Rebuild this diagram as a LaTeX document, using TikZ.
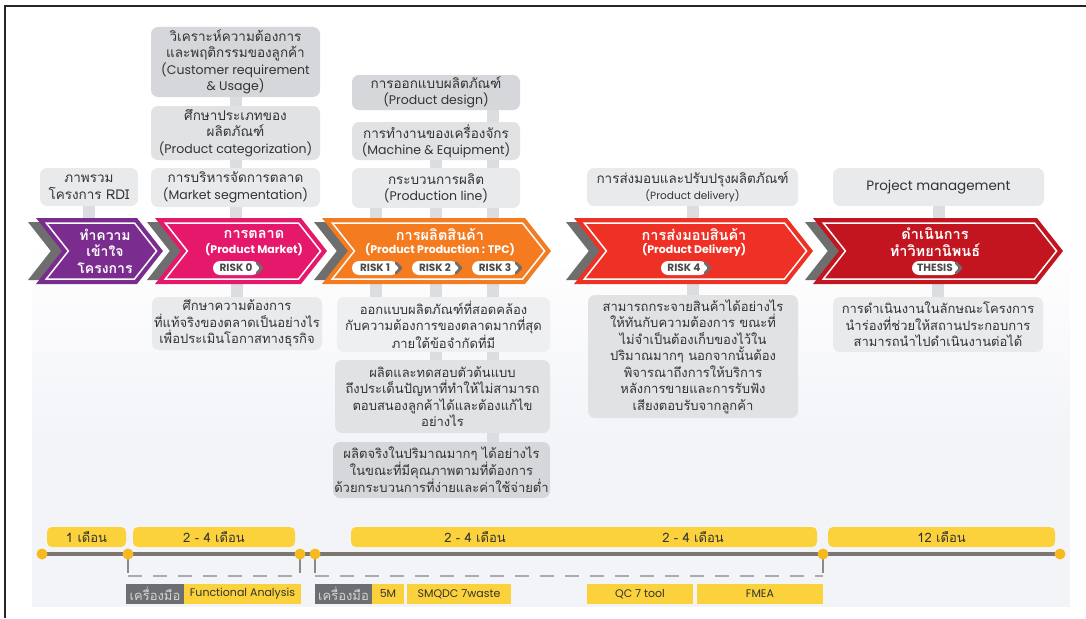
\documentclass[tikz,border=0pt]{standalone}
\usepackage{fontspec}
\setmainfont{Loma}[Script=Thai]
\newfontfamily\lat{Poppins}
\usetikzlibrary{calc,backgrounds}
\pgfdeclarelayer{canvas}
\pgfsetlayers{canvas,background,main}

\definecolor{ink}{HTML}{333333}
\definecolor{gA}{HTML}{D5D7DA}
\definecolor{gB}{HTML}{E0E2E4}
\definecolor{gC}{HTML}{E8EAEC}
\definecolor{gD}{HTML}{EDEFF1}
\definecolor{stripc}{HTML}{DBDDE0}
\definecolor{cpurple}{HTML}{7B2C8F}
\definecolor{cpink}{HTML}{E6186C}
\definecolor{corange}{HTML}{F47B20}
\definecolor{cred}{HTML}{EE3124}
\definecolor{cdark}{HTML}{C3151F}
\definecolor{cshadow}{HTML}{6E6E6E}
\definecolor{pillink}{HTML}{4A4A4A}
\definecolor{ybar}{HTML}{FBD23C}
\definecolor{ydot}{HTML}{F7B920}
\definecolor{tlinec}{HTML}{7C7672}
\definecolor{tickc}{HTML}{8A8A8A}
\definecolor{dashc}{HTML}{A9ABAE}
\definecolor{toolgrey}{HTML}{6D6E71}
\definecolor{toolink}{HTML}{D4D4D4}
\definecolor{bgc}{HTML}{F3F4F8}
\definecolor{framec}{HTML}{262626}

\tikzset{
  every node/.style={inner sep=0pt, outer sep=0pt},
  gbox/.style={rounded corners=7pt, align=center, text=ink,
    font=\fontsize{13.5}{16.5}\selectfont},
  lowbox/.style={gbox, font=\fontsize{13}{16.5}\selectfont},
  strip/.style={line width=12pt, draw=stripc},
  chevtitle/.style={text=white, align=center, font=\bfseries\fontsize{14.5}{17}\selectfont},
  chevsub/.style={text=white, font=\lat\bfseries\fontsize{11}{12}\selectfont},
  pill/.style={fill=white, rounded corners=7pt, minimum width=46pt, minimum height=14pt,
    text=pillink, font=\lat\bfseries\fontsize{10.5}{11}\selectfont},
  pillarrow/.style={draw=cshadow, line width=2.8pt, line join=round, line cap=round},
  bar/.style={fill=ybar, rounded corners=5pt, minimum height=20pt},
  barlabel/.style={text=ink, font=\fontsize{13}{14}\selectfont},
  dot/.style={circle, fill=ydot, minimum size=11pt},
  tline/.style={line width=3.5pt, draw=tlinec},
  tickline/.style={line width=2pt, draw=tickc},
  dashline/.style={line width=2.5pt, draw=dashc, dash pattern=on 14pt off 11pt},
  toolg/.style={fill=toolgrey, text=toolink, minimum height=20pt,
    font=\fontsize{13}{14}\selectfont},
  tooly/.style={fill=ybar, text=ink, minimum height=20pt,
    font=\lat\fontsize{11}{12}\selectfont},
}
% Latin lines inside the grey boxes
\newcommand{\la}[1]{{\lat\fontsize{12.5}{16.5}\selectfont #1}}

% grey offset copy behind a chevron
\newcommand{\chevshade}[2]{%
  \fill[cshadow] ({#1-8},222) -- ({#2-8-22.8},222) -- ({#2-8},251)
    -- ({#2-8-22.8},280) -- ({#1-8},280) -- ({#1-8+22.8},251) -- cycle;}
% coloured chevron with inner white outline; #1 name, #2 left x, #3 tip x, #4 colour
\newcommand{\chevbody}[4]{%
  \fill[#4] (#2,218) -- ({#3-26},218) -- (#3,251) -- ({#3-26},284)
    -- (#2,284) -- ({#2+26},251) -- cycle;
  \draw[white, line width=1.5pt] ({#2+10.3},223) -- ({#3-28.5},223) -- ({#3-6.4},251)
    -- ({#3-28.5},279) -- ({#2+10.3},279) -- ({#2+32.4},251) -- cycle;
  \node[minimum width={(#3-#2)*1pt}, minimum height=66pt] (#1) at ({(#2+#3)/2},251) {};}
% risk tag with its arrow cap
\newcommand{\risktag}[4]{%
  \node[pill] (#1) at (#2,#3) {#4};
  \draw[pillarrow] ([xshift=-2pt,yshift=5pt]#1.east) -- ([xshift=3pt]#1.east)
    -- ([xshift=-2pt,yshift=-5pt]#1.east);}

\begin{document}
\begin{tikzpicture}[x=1pt, y=-1pt]
\useasboundingbox (0,0) rectangle (1086,618);

\begin{pgfonlayer}{canvas}
  \fill[white] (0,0) rectangle (1086,618);
  \fill[top color=white, bottom color=bgc] (32,240) rectangle (1070,440);
  \fill[bgc] (32,439.5) rectangle (1070,607);
  \draw[framec, line width=2pt] (5,618) -- (5,6) -- (1086,6);
\end{pgfonlayer}

% ---------- upper boxes ----------
\node[gbox, fill=gC, minimum width=98pt, minimum height=38pt] (rdi) at (89,187)
  {ภาพรวม\\โครงการ RDI};
\node[gbox, fill=gA, minimum width=169pt, minimum height=70pt] (cust) at (235.5,62)
  {วิเคราะห์ความต้องการ\\และพฤติกรรมของลูกค้า\\\la{(Customer requirement}\\\la{\& Usage)}};
\node[gbox, fill=gB, minimum width=169pt, minimum height=54pt] (cat) at (235.5,133)
  {ศึกษาประเภทของ\\ผลิตภัณฑ์\\\la{(Product categorization)}};
\node[gbox, fill=gC, minimum width=169pt, minimum height=39pt] (seg) at (235.5,187.5)
  {การบริหารจัดการตลาด\\\la{(Market segmentation)}};

\node[gbox, fill=gA, minimum width=168pt, minimum height=35pt] (des) at (436,92.5)
  {การออกแบบผลิตภัณฑ์\\\la{(Product design)}};
\node[gbox, fill=gB, minimum width=168pt, minimum height=38pt] (mach) at (436,141)
  {การทำงานของเครื่องจักร\\\la{(Machine \& Equipment)}};
\node[gbox, fill=gC, minimum width=168pt, minimum height=40pt] (pline) at (436,188)
  {กระบวนการผลิต\\\la{(Production line)}};

\node[gbox, fill=gC, minimum width=211pt, minimum height=38pt] (dlv) at (692.5,187)
  {การส่งมอบและปรับปรุงผลิตภัณฑ์\\{\lat\fontsize{10.5}{12.5}\selectfont (Product delivery)}};
\node[gbox, fill=gC, minimum width=211pt, minimum height=38pt] (pm) at (938.5,187)
  {{\lat\fontsize{13.5}{16}\selectfont Project management}};

% ---------- chevrons ----------
\chevshade{36}{163}
\chevshade{155}{327}
\chevshade{322}{551}
\chevshade{574}{813}
\chevshade{813}{1063}
\chevbody{ch1}{36}{163}{cpurple}
\chevbody{ch2}{155}{327}{cpink}
\chevbody{ch3}{322}{551}{corange}
\chevbody{ch4}{574}{813}{cred}
\chevbody{ch5}{813}{1063}{cdark}

\node[chevtitle, font=\bfseries\fontsize{14}{16.5}\selectfont] (t1) at (105,251)
  {ทำความ\\เข้าใจ\\โครงการ};
\node[chevtitle] (t2) at (254,234) {การตลาด};
\node[chevsub] (s2) at (254,250) {(Product Market)};
\risktag{r0}{236}{268}{RISK 0}

\node[chevtitle] (t3) at (440,234) {การผลิตสินค้า};
\node[chevsub] (s3) at (440,250) {(Product Production : TPC)};
\risktag{r1}{375}{268}{RISK 1}
\risktag{r2}{435}{268}{RISK 2}
\risktag{r3}{495}{268}{RISK 3}

\node[chevtitle] (t4) at (694,234) {การส่งมอบสินค้า};
\node[chevsub] (s4) at (694,250) {(Product Delivery)};
\risktag{r4}{684}{268}{RISK 4}

\node[chevtitle] (t5) at (935,242) {ดำเนินการ\\ทำวิทยานิพนธ์};
\risktag{r5}{935}{268}{THESIS}

% ---------- lower boxes ----------
\node[lowbox, fill=gC, minimum width=170pt, minimum height=53pt] (mlow) at (237,323.5)
  {ศึกษาความต้องการ\\ที่แท้จริงของตลาดเป็นอย่างไร\\เพื่อประเมินโอกาสทางธุรกิจ};
\node[lowbox, fill=gD, minimum width=213pt, minimum height=55pt] (low1) at (443.5,324.5)
  {ออกแบบผลิตภัณฑ์ที่สอดคล้อง\\กับความต้องการของตลาดมากที่สุด\\ภายใต้ข้อจำกัดที่มี};
\node[lowbox, fill=gB, minimum width=215pt, minimum height=73pt] (low2) at (442.5,396.5)
  {ผลิตและทดสอบตัวต้นแบบ\\ถึงประเด็นปัญหาที่ทำให้ไม่สามารถ\\ตอบสนองลูกค้าได้และต้องแก้ไข\\อย่างไร};
\node[lowbox, fill=gA, minimum width=217pt, minimum height=56pt] (low3) at (441.5,470)
  {ผลิตจริงในปริมาณมากๆ ได้อย่างไร\\ในขณะที่มีคุณภาพตามที่ต้องการ\\ด้วยกระบวนการที่ง่ายและค่าใช้จ่ายต่ำ};
\node[lowbox, fill=gB, minimum width=210pt, minimum height=123pt] (dlow) at (693,356.5)
  {สามารถกระจายสินค้าได้อย่างไร\\ให้ทันกับความต้องการ ขณะที่\\ไม่จำเป็นต้องเก็บของไว้ใน\\ปริมาณมากๆ นอกจากนั้นต้อง\\พิจารณาถึงการให้บริการ\\หลังการขายและการรับฟัง\\เสียงตอบรับจากลูกค้า};
\node[lowbox, fill=gC, minimum width=210pt, minimum height=55pt] (tlow) at (938,324.5)
  {การดำเนินงานในลักษณะโครงการ\\นำร่องที่ช่วยให้สถานประกอบการ\\สามารถนำไปดำเนินงานต่อได้};

% ---------- connecting strips ----------
\coordinate (xa) at (376,0);
\coordinate (xb) at (436,0);
\coordinate (xc) at (493,0);
\begin{pgfonlayer}{background}
  \draw[strip] (rdi.south) -- (rdi.south |- ch1.north);
  \draw[strip] (cust.south) -- (cat.north);
  \draw[strip] (cat.south) -- (seg.north);
  \draw[strip] (seg.south) -- (seg.south |- ch2.north);
  \draw[strip] (mlow.north |- ch2.south) -- (mlow.north);
  \draw[strip] (des.south -| xc) -- (xc |- ch3.north);
  \draw[strip] (mach.south -| xb) -- (xb |- ch3.north);
  \draw[strip] (pline.south -| xa) -- (xa |- ch3.north);
  \draw[strip] (xa |- ch3.south) -- (low1.north -| xa);
  \draw[strip] (xb |- ch3.south) -- (low2.north -| xb);
  \draw[strip] (xc |- ch3.south) -- (low3.north -| xc);
  \draw[strip] (dlv.south) -- (dlv.south |- ch4.north);
  \draw[strip] (dlow.north |- ch4.south) -- (dlow.north);
  \draw[strip] (pm.south) -- (pm.south |- ch5.north);
  \draw[strip] (tlow.north |- ch5.south) -- (tlow.north);
\end{pgfonlayer}

% ---------- timeline ----------
\node[bar, minimum width=79pt] (b1) at (86.5,537) {};
\node[barlabel] (l1) at (b1) {1 เดือน};
\node[bar, minimum width=162pt] (b2) at (214,537) {};
\node[barlabel] (l2) at (b2) {2 - 4 เดือน};
\node[bar, minimum width=466pt] (b3) at (584,537) {};
\node[barlabel] (l3a) at (475,537) {2 - 4 เดือน};
\node[barlabel] (l3b) at (693,537) {2 - 4 เดือน};
\node[bar, minimum width=227pt] (b4) at (941.5,537) {};
\node[barlabel] (l4) at (b4) {12 เดือน};

\coordinate (dashY) at (0,576);
\coordinate (tickY) at (0,573);
\node[dot] (d1) at (42,554) {};
\node[dot] (d2) at (128,554) {};
\node[dot] (d3) at (300,554) {};
\node[dot] (d4) at (315,554) {};
\node[dot] (d5) at (823,554) {};
\node[dot] (d6) at (1060,554) {};
\begin{pgfonlayer}{background}
  \draw[tline] (d1.center) -- (d6.center);
  \draw[tickline] (d2.center) -- (d2 |- tickY);
  \draw[tickline] (d3.center) -- (d3 |- tickY);
  \draw[tickline] (d4.center) -- (d4 |- tickY);
  \draw[tickline] (d5.center) -- (d5 |- tickY);
\end{pgfonlayer}
\draw[dashline] (d2 |- dashY) -- (d3 |- dashY);
\draw[dashline] (d4 |- dashY) -- (d5 |- dashY);

% ---------- tools ----------
\node[toolg, minimum width=58pt] (tg1) at (155,594) {เครื่องมือ};
\node[tooly, minimum width=117pt] (fa) at (242.5,594) {Functional Analysis};
\node[toolg, minimum width=57pt] (tg2) at (343.5,594) {เครื่องมือ};
\node[tooly, minimum width=32pt] (m5) at (388,594) {5M};
\node[tooly, minimum width=104pt] (smq) at (459,594) {SMQDC 7waste};
\node[tooly, minimum width=106pt] (qc) at (640,594) {QC 7 tool};
\node[tooly, minimum width=126pt] (fmea) at (760,594) {FMEA};
\end{tikzpicture}
\end{document}
